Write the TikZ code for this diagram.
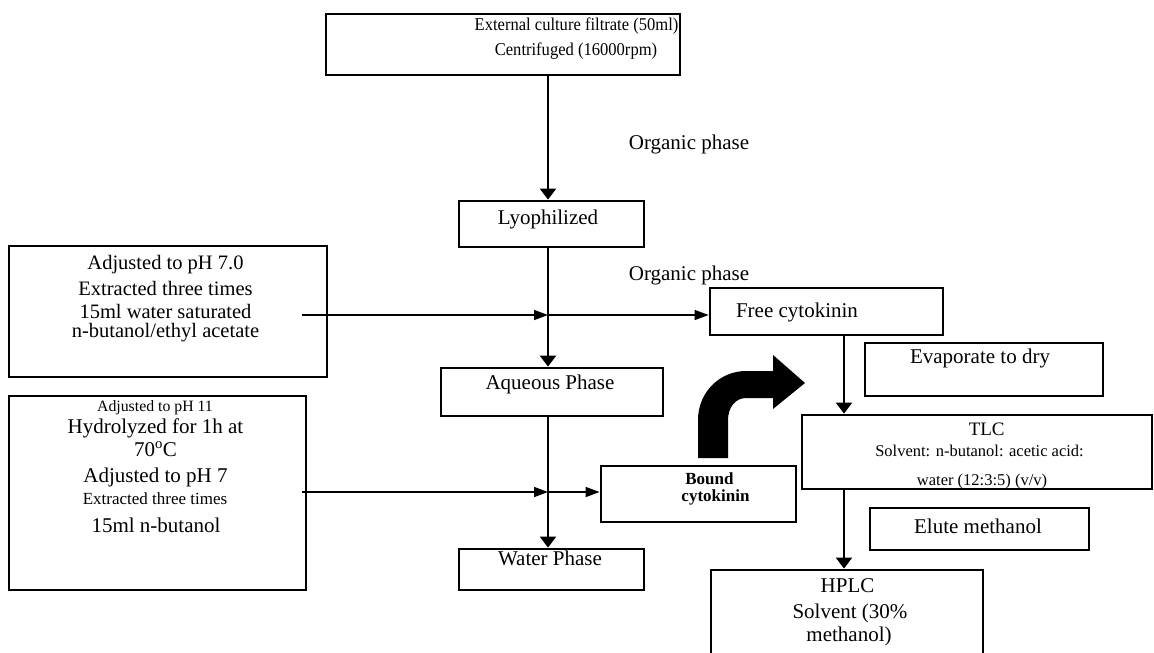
\documentclass[tikz,border=0pt]{standalone}
\usepackage{fontspec}
\usepackage{graphicx}
\setmainfont{Liberation Serif}
\usetikzlibrary{arrows.meta}
\begin{document}
\begin{tikzpicture}[x=1pt,y=-1pt,
  box/.style={draw, line width=2.8pt, inner sep=0pt},
  txt/.style={anchor=base, inner sep=0pt, font=\fontsize{21}{25}\selectfont},
  txtA/.style={txt, font=\fontsize{20.5}{24}\selectfont},
  txtS/.style={txt, font=\fontsize{17}{20}\selectfont},
  vline/.style={line width=2.2pt, -{Triangle[length=11pt,width=16pt]}},
  hline/.style={line width=1.5pt, -{Triangle[length=14pt,width=10pt]}},
]
\useasboundingbox (0,0) rectangle (1154,653);

% boxes
\node[box, minimum width=354pt, minimum height=61pt] (top) at (503,44.5) {};
\node[box, minimum width=185pt, minimum height=46pt] (lyo) at (551.5,224) {};
\node[box, minimum width=318pt, minimum height=131pt] (boxA) at (168,311.5) {};
\node[box, minimum width=297pt, minimum height=194pt] (boxB) at (157.5,493) {};
\node[box, minimum width=233pt, minimum height=47pt] (free) at (826.5,311.5) {};
\node[box, minimum width=238pt, minimum height=53pt] (evap) at (984,369.5) {};
\node[box, minimum width=222pt, minimum height=48pt] (aq) at (552,392) {};
\node[box, minimum width=195pt, minimum height=56pt] (bound) at (698.5,494) {};
\node[box, minimum width=350pt, minimum height=74pt] (tlc) at (977,452) {};
\node[box, minimum width=219pt, minimum height=42pt] (elute) at (979.5,529) {};
\node[box, minimum width=185pt, minimum height=41pt] (water) at (551.5,569.5) {};
\node[box, minimum width=272pt, minimum height=100pt] (hplc) at (847,620) {};

% texts
\node[txt, font=\fontsize{18}{22}\selectfont] (t1) at (576.5,30.7) {\scalebox{0.92}[1]{External culture filtrate (50ml)}};
\node[txt, font=\fontsize{18}{22}\selectfont] (t2) at (576,55) {\scalebox{0.92}[1]{Centrifuged (16000rpm)}};
\node[txt] (org1) at (689,149) {Organic phase};
\node[txt] (lyot) at (548,224) {Lyophilized};
\node[txt] (org2) at (689,280.5) {Organic phase};

\node[txtA] (a1) at (165.5,269.3) {Adjusted to pH 7.0};
\node[txtA] (a2) at (165.5,295) {Extracted three times};
\node[txtA] (a3) at (165.5,318.3) {15ml water saturated};
\node[txtA] (a4) at (165.5,337.3) {n-butanol/ethyl acetate};

\node[txt, font=\fontsize{15.8}{18}\selectfont] (b1) at (155,411.7) {Adjusted to pH 11};
\node[txt] (b2) at (155.5,433.3) {Hydrolyzed for 1h at};
\node[txt] (b3) at (155.5,456) {70\textsuperscript{o}C};
\node[txt] (b4) at (155.5,482.7) {Adjusted to pH 7};
\node[txtS] (b5) at (155,504) {Extracted three times};
\node[txt] (b6) at (156,532.7) {15ml n-butanol};

\node[txt] (freet) at (797,317) {Free cytokinin};
\node[txt] (evapt) at (980,363.3) {Evaporate to dry};
\node[txt] (aqt) at (550,389.3) {Aqueous Phase};
\node[txt, font=\bfseries\fontsize{17}{20}\selectfont] (bt1) at (709.5,484) {Bound};
\node[txt, font=\bfseries\fontsize{17}{20}\selectfont] (bt2) at (715.5,501) {cytokinin};
\node[txt] (watert) at (550,565) {Water Phase};
\node[txt, font=\fontsize{19}{22}\selectfont] (tlc1) at (986.7,435) {TLC};
\node[txt, font=\fontsize{16.5}{20}\selectfont] (tlc2) at (979.5,456.7) {Solvent: n-butanol: acetic acid:};
\node[txt, font=\fontsize{16.5}{20}\selectfont] (tlc3) at (982,485) {water (12:3:5) (v/v)};
\node[txt] (elutet) at (978,533.3) {Elute methanol};
\node[txt] (h1) at (847.5,592.7) {HPLC};
\node[txt] (h2) at (850,618.3) {Solvent (30\%};
\node[txt] (h3) at (849,641.7) {methanol)};

% connectors
\coordinate (axis) at (548,0);
\coordinate (axisR) at (844,0);
\coordinate (aS) at (302,315);
\coordinate (bS) at (302,492);
\draw[vline] (top.south -| axis) -- (lyo.north -| axis);
\draw[vline] (lyo.south -| axis) -- (aq.north -| axis);
\draw[vline] (aq.south -| axis) -- (water.north -| axis);
\draw[hline] (aS) -- (aS -| axis);
\draw[hline] (aS -| axis) -- (aS -| free.west);
\draw[hline] (bS) -- (bS -| axis);
\draw[hline] (bS -| axis) -- (bS -| bound.west);
\draw[vline] (free.south -| axisR) -- (tlc.north -| axisR);
\draw[vline] (tlc.south -| axisR) -- (hplc.north -| axisR);

% big curved arrow
\fill (698,458) -- (698,420) .. controls (698,392) and (720,371) .. (746,371)
  -- (773,371) -- (773,355) -- (805,383) -- (773,409) -- (773,398) -- (746,398)
  .. controls (735,398) and (728,408) .. (728,420) -- (728,458) -- cycle;
\end{tikzpicture}
\end{document}
